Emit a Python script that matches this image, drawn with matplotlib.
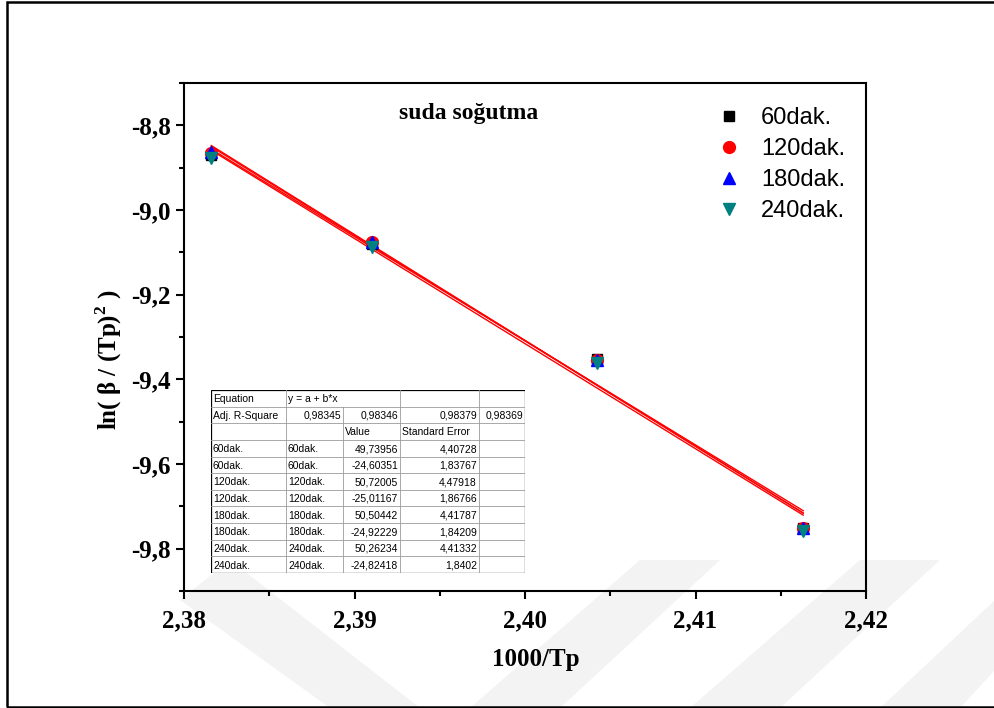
import matplotlib
matplotlib.use("Agg")
from matplotlib import pyplot as plt
from matplotlib.patches import Rectangle, Polygon
import numpy as np

# Data
x_vals = [2.38160, 2.39101, 2.40424, 2.41632]
y_60 = [-8.871, -9.081, -9.352, -9.751]
y_120 = [-8.866, -9.076, -9.355, -9.752]
y_180 = [-8.862, -9.076, -9.355, -9.751]
y_240 = [-8.877, -9.088, -9.362, -9.759]

# Linear fit coefficients (from the inset table)
fit_a = [49.73956, 50.72005, 50.50442, 50.26234]
fit_b = [-24.60351, -25.01167, -24.92229, -24.82418]
adj_r2 = ["0,98345", "0,98346", "0,98379", "0,98369"]
se_a = ["4,40728", "4,47918", "4,41787", "4,41332"]
se_b = ["1,83767", "1,86766", "1,84209", "1,8402"]
val_a = ["49,73956", "50,72005", "50,50442", "50,26234"]
val_b = ["-24,60351", "-25,01167", "-24,92229", "-24,82418"]
names = ["60dak.", "120dak.", "180dak.", "240dak."]

xticks = [2.38, 2.39, 2.40, 2.41, 2.42]
xticklabels = ["2,38", "2,39", "2,40", "2,41", "2,42"]
yticks = [-9.8, -9.6, -9.4, -9.2, -9.0, -8.8]
yticklabels = ["-9,8", "-9,6", "-9,4", "-9,2", "-9,0", "-8,8"]

plt.rcParams['mathtext.fontset'] = 'custom'
plt.rcParams['mathtext.rm'] = 'Liberation Serif:bold'
plt.rcParams['mathtext.bf'] = 'Liberation Serif:bold'

fig = plt.figure(figsize=(9.95, 7.08), dpi=100)
ax = fig.add_axes([184/995, 1 - 591/708, 682/995, 508/708])
ax.set_facecolor('none')

# fit lines
x_line = np.array([x_vals[0], x_vals[-1]])
for a, b in zip(fit_a, fit_b):
    ax.plot(x_line, a + b * x_line, color='red', linewidth=1.0, zorder=2)

ms = 8.5
ax.plot(x_vals, y_60, 's', color='black', markersize=ms - 1, label="60dak.", zorder=3)
ax.plot(x_vals, y_120, 'o', color='red', markersize=ms, label="120dak.", zorder=3)
ax.plot(x_vals, y_180, '^', color='blue', markersize=ms, label="180dak.", zorder=3)
ax.plot(x_vals, y_240, 'v', color='#008080', markersize=ms, label="240dak.", zorder=3)

ax.set_xlim(2.38, 2.42)
ax.set_ylim(-9.9, -8.7)
ax.set_xticks(xticks)
ax.set_xticklabels(xticklabels)
ax.set_yticks(yticks)
ax.set_yticklabels(yticklabels)
ax.set_xticks([2.385, 2.395, 2.405, 2.415], minor=True)
ax.set_yticks([-9.9, -9.7, -9.5, -9.3, -9.1, -8.9, -8.7], minor=True)
ax.tick_params(which='major', direction='out', length=6, width=1.5)
ax.tick_params(which='minor', direction='out', length=3.5, width=1.5)
ax.tick_params(axis='x', pad=7)
for lab in ax.get_xticklabels() + ax.get_yticklabels():
    lab.set_fontfamily('Liberation Serif')
    lab.set_fontweight('bold')
    lab.set_fontsize(18)
for sp in ax.spines.values():
    sp.set_linewidth(1.5)

ax.set_xlabel("1000/Tp", fontfamily='Liberation Serif', fontweight='bold', fontsize=18)
ax.set_ylabel(r"ln( β / (Tp)$^{2}$ )", fontfamily='Liberation Serif', fontweight='bold', fontsize=18)
ax.xaxis.set_label_coords((536 - 184) / 682, (591 - 648) / 508)
ax.yaxis.set_label_coords((124 - 184) / 682, (591 - 360) / 508)

fig.text(469/995, 1 - 113/708, "suda soğutma", fontfamily='Liberation Serif',
         fontweight='bold', fontsize=17, ha='center', va='center')

ax.legend(loc='upper left', bbox_to_anchor=(702/995, 1 - 98/708), bbox_transform=fig.transFigure,
          frameon=False, prop={'family': 'Liberation Sans', 'size': 17},
          handletextpad=0.6, labelspacing=0.38, handlelength=1.5, borderaxespad=0)

# inset table drawn on its own axes (pixel units)
col_edges = [0, 75, 132, 189, 268, 314]
n_rows = 11
tax = fig.add_axes([211/995, 1 - 573/708, 314/995, 183/708])
tax.set_xlim(0, col_edges[-1])
tax.set_ylim(n_rows, 0)
tax.axis('off')
tax.add_patch(Rectangle((0, 0), col_edges[-1], n_rows, facecolor='white', edgecolor='black',
                        linewidth=0.9, zorder=1))
for r in range(1, n_rows):
    tax.plot([0, col_edges[-1]], [r, r], color='#9a9a9a', linewidth=0.6, zorder=2)
for c in col_edges[1:-1]:
    y0 = 1 if c == col_edges[2] else 0
    tax.plot([c, c], [y0, n_rows], color='#9a9a9a', linewidth=0.6, zorder=2)

rows = [["Equation", "y = a + b*x", "", "", ""],
        ["Adj. R-Square"] + adj_r2,
        ["", "", "Value", "Standard Error", ""]]
for i, n in enumerate(names):
    rows.append([n, n, val_a[i], se_a[i], ""])
    rows.append([n, n, val_b[i], se_b[i], ""])

for r, row in enumerate(rows):
    for c, txt in enumerate(row):
        if not txt:
            continue
        right = (r == 1 and c >= 1) or (r >= 3 and c in (2, 3))
        if right:
            xx, ha = col_edges[c + 1] - 2, 'right'
        else:
            xx, ha = col_edges[c] + 2, 'left'
        tax.text(xx, r + 0.55, txt, ha=ha, va='center', fontsize=7.5,
                 fontfamily='Liberation Sans', zorder=3)

# faint watermark bands behind everything
wm = [[(180, 600), (230, 560), (420, 708), (330, 708)],
      [(470, 708), (560, 708), (720, 560), (640, 560)],
      [(690, 708), (780, 708), (940, 560), (860, 560)],
      [(880, 708), (960, 708), (995, 670), (995, 600)]]
for pts in wm:
    fig.patches.append(Polygon([(px / 995, 1 - py / 708) for px, py in pts], closed=True,
                               transform=fig.transFigure, facecolor='#f3f3f3',
                               edgecolor='none', zorder=-1))

# outer border
fig.patches.append(Rectangle((7/995, 1/708), 1.1, 705/708, transform=fig.transFigure,
                             fill=False, edgecolor='black', linewidth=1.8, zorder=6))

fig.savefig("out.png", dpi=100)
